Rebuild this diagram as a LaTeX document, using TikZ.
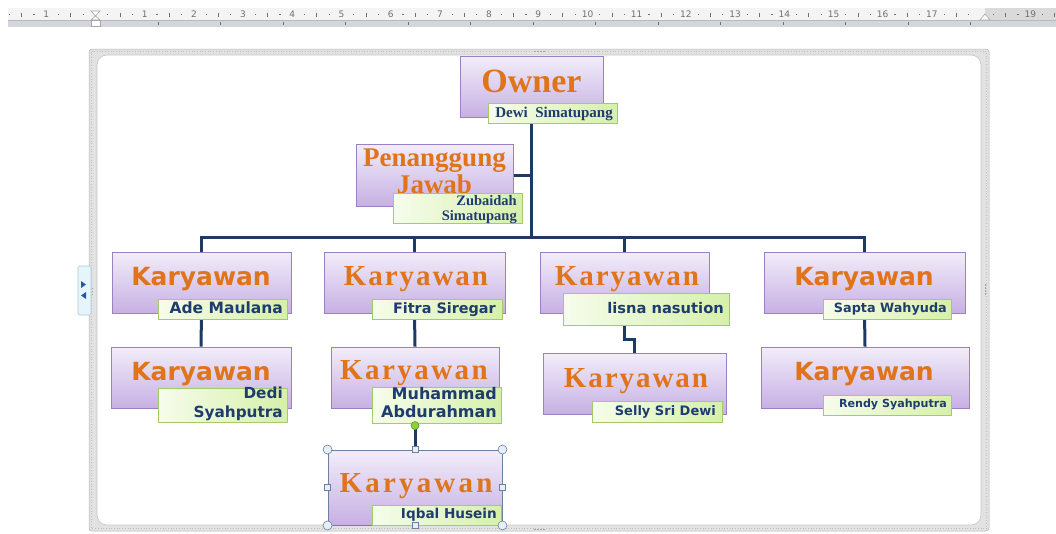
\documentclass[tikz,border=0pt]{standalone}
\usepackage{fontspec}
\setmainfont{Liberation Serif}
\newfontfamily\dvs{DejaVu Sans}
\usetikzlibrary{shadows,calc}
\pgfdeclarelayer{frame}
\pgfdeclarelayer{back}
\pgfsetlayers{frame,back,main}
\definecolor{boxtop}{HTML}{F2EDFA}
\definecolor{boxbot}{HTML}{C7B0E3}
\definecolor{boxline}{HTML}{9B80C4}
\definecolor{subtop}{HTML}{F6FCEB}
\definecolor{subbot}{HTML}{D6F0AA}
\definecolor{subline}{HTML}{A2CB6A}
\definecolor{linkcol}{HTML}{1E3A62}
\definecolor{ttl}{HTML}{E0741A}
\definecolor{subtxt}{HTML}{1F3C6E}
\definecolor{handle}{HTML}{6C819E}
\definecolor{handlefill}{HTML}{E6EEF6}
\definecolor{rotfill}{HTML}{8BD23A}
\definecolor{rotline}{HTML}{5A9A20}
\definecolor{rulerbg}{HTML}{F4F4F4}
\definecolor{rulerdark}{HTML}{DADADA}
\definecolor{rulerstrip}{HTML}{D3D6DA}
\definecolor{rulertick}{HTML}{707070}
\definecolor{framegray}{HTML}{E2E2E2}
\definecolor{tabfill}{HTML}{E6F5FB}
\definecolor{tabline}{HTML}{A6CADB}
\definecolor{tabarrow}{HTML}{2458A8}
\tikzset{
  orgbox/.style={draw=boxline, line width=0.9pt, top color=boxtop, bottom color=boxbot, inner sep=0pt,
    drop shadow={shadow xshift=1.3pt, shadow yshift=-1.3pt, opacity=0.25}},
  subbox/.style={draw=subline, line width=0.9pt, left color=subtop, right color=subbot, inner sep=0pt,
    drop shadow={shadow xshift=1.2pt, shadow yshift=-1.2pt, opacity=0.25}},
  link/.style={draw=linkcol, line width=3pt},
  ttlserif/.style={text=ttl, inner sep=0pt, anchor=base, font=\bfseries\fontsize{29}{29}\selectfont\addfontfeature{LetterSpace=#1}},
  ttlbig/.style={text=ttl, inner sep=0pt, anchor=base, font=\bfseries\fontsize{#1}{#1}\selectfont},
  ttlsans/.style={text=ttl, inner sep=0pt, anchor=base, font=\dvs\bfseries\fontsize{25}{25}\selectfont},
  subsans/.style={text=subtxt, inner sep=0pt, anchor=base east, font=\dvs\bfseries\fontsize{#1}{19}\selectfont},
  subserif/.style={text=subtxt, inner sep=0pt, anchor=base east, font=\bfseries\fontsize{#1}{15}\selectfont},
  rulnum/.style={text=rulertick, inner sep=0pt, font=\dvs\fontsize{9}{9}\selectfont},
  markline/.style={draw=gray!70, line width=0.6pt},
  hcirc/.style={circle, draw=handle, fill=handlefill, line width=0.6pt, minimum size=9pt, inner sep=0pt},
  hsq/.style={rectangle, draw=handle, fill=handlefill, line width=0.6pt, minimum size=6pt, inner sep=0pt},
}
\begin{document}
\begin{tikzpicture}[x=1pt,y=-1pt]
\useasboundingbox (0,0) rectangle (1056,533);
\begin{pgfonlayer}{frame}
\fill[white] (0,0) rectangle (1056,533);
% ruler
\begin{scope}
\clip (8,8) rectangle (1056,27);
\fill[rulerbg] (8,8) rectangle (1056,20);
\fill[rulerdark] (985,8) rectangle (1056,20);
\fill[rulerstrip] (8,20) rectangle (1056,27);
\draw[gray!55, line width=0.5pt] (8,20.3) -- (1056,20.3);
\foreach \k in {-2,...,19}{
  \fill[rulertick] ({95.5+(\k+0.25)*49.2-0.6},14) rectangle ++(1.2,1.2);
  \fill[rulertick] ({95.5+(\k+0.75)*49.2-0.6},14) rectangle ++(1.2,1.2);
  \fill[rulertick] ({95.5+(\k+0.5)*49.2-0.5},12.5) rectangle ++(1,4);
}
\foreach \n in {1,...,14} \fill[rulertick] ({95.5+\n*62.5-0.5},22) rectangle ++(1,3);
\end{scope}
\foreach \k in {-1,1,2,...,17,19}{
  \pgfmathtruncatemacro\rabs{abs(\k)}
  \node[rulnum] (rn\k) at ({95.5+\k*49.2},14.6) {\rabs};
}
\draw[markline, fill=white] (91,11) -- (100,11) -- (95.5,16) -- cycle;
\draw[markline, fill=white] (95.5,16) -- (100,20) -- (91,20) -- cycle;
\draw[markline, fill=white] (91,20) rectangle (100,26);
\draw[markline, fill=white] (980,20) -- (990,20) -- (985,14) -- cycle;
% frame
\fill[framegray, rounded corners=3pt] (89,49) rectangle (989,531);
\draw[gray!60, line width=0.5pt, rounded corners=3pt] (89,49) rectangle (989,531);
\draw[gray!50, line width=0.7pt, dotted] (91.5,51.5) rectangle (986.5,528.5);
\fill[white, rounded corners=10pt] (97,55) rectangle (981,525);
\draw[gray!45, line width=0.6pt, rounded corners=10pt] (97,55) rectangle (981,525);
\foreach \i in {0,...,3}{
  \fill[gray!70] ({534+\i*3},50.5) rectangle ++(1.5,1.5);
  \fill[gray!70] ({534+\i*3},528.5) rectangle ++(1.5,1.5);
  \fill[gray!70] (984.5,{284+\i*3}) rectangle ++(1.5,1.5);
}
% left tab
\draw[tabline, fill=tabfill, line width=0.6pt, rounded corners=1.5pt] (78,266) rectangle (91,315);
\fill[tabarrow] (81,281) -- (86,284.5) -- (81,288) -- cycle;
\fill[tabarrow] (86,292) -- (81,295.5) -- (86,299) -- cycle;
\foreach \i in {0,...,2} \fill[gray!70] (92,{288+\i*3}) rectangle ++(1.3,1.3);
\end{pgfonlayer}

% ---------- boxes ----------
\node[orgbox, minimum width=143, minimum height=61] (own) at (531.5,86.5) {};
\node[ttlbig=34] (ownT) at (531.5,92) {Owner};
\node[subbox, minimum width=129, minimum height=20] (ownS) at (552.5,113) {};
\node[subserif=15] (ownN) at (613,117) {Dewi\ \ Simatupang};

\node[orgbox, minimum width=157, minimum height=62] (pen) at (434.5,175) {};
\node[ttlbig=27] (penT1) at (434.5,166.5) {Penanggung};
\node[ttlbig=27] (penT2) at (434.5,193) {Jawab};
\node[subbox, minimum width=129, minimum height=30] (penS) at (457.5,208) {};
\node[subserif=14.5] (penN) at (517,205) {\begin{tabular}[t]{@{}r@{}}Zubaidah\\Simatupang\end{tabular}};

% row 1
\node[orgbox, minimum width=179, minimum height=61] (k1) at (201.5,282.5) {};
\node[ttlsans] (k1T) at (201,285) {Karyawan};
\node[subbox, minimum width=129, minimum height=20] (k1S) at (222.5,309) {};
\node[subsans=15.5] (k1N) at (283,313) {Ade Maulana};

\node[orgbox, minimum width=181, minimum height=61] (k2) at (414.5,282.5) {};
\node[ttlserif=6.7] (k2T) at (416,285) {Karyawan};
\node[subbox, minimum width=130, minimum height=20] (k2S) at (437,309) {};
\node[subsans=14.4] (k2N) at (496,313) {Fitra Siregar};

\node[orgbox, minimum width=169, minimum height=61] (k3) at (624.5,282.5) {};
\node[ttlserif=6.7] (k3T) at (627,285) {Karyawan};
\node[subbox, minimum width=166, minimum height=32] (k3S) at (646,309) {};
\node[subsans=14.7] (k3N) at (724,313) {lisna nasution};

\node[orgbox, minimum width=201, minimum height=61] (k4) at (864.5,282.5) {};
\node[ttlsans] (k4T) at (864,285) {Karyawan};
\node[subbox, minimum width=128, minimum height=20] (k4S) at (887,309) {};
\node[subsans=12.8] (k4N) at (947,312) {Sapta Wahyuda};

% row 2
\node[orgbox, minimum width=180, minimum height=61] (k1b) at (201,377.5) {};
\node[ttlsans] (k1bT) at (201,380) {Karyawan};
\node[subbox, minimum width=129, minimum height=34] (k1bS) at (222.5,405) {};
\node[subsans=15.3] (k1bN) at (283,398) {\begin{tabular}[t]{@{}r@{}}Dedi\\Syahputra\end{tabular}};

\node[orgbox, minimum width=168, minimum height=61] (k2b) at (415,377.5) {};
\node[ttlserif=8.4] (k2bT) at (414,379.5) {Karyawan};
\node[subbox, minimum width=129, minimum height=36] (k2bS) at (436.5,405) {};
\node[subsans=16] (k2bN1) at (497,399) {Muhammad};
\node[subsans=16] (k2bN2) at (497,417) {Abdurahman};

\node[orgbox, minimum width=183, minimum height=61] (k3b) at (634.5,383.5) {};
\node[ttlserif=6.7] (k3bT) at (636,387) {Karyawan};
\node[subbox, minimum width=130, minimum height=21] (k3bS) at (657,411.5) {};
\node[subsans=13] (k3bN) at (716,415) {Selly Sri Dewi};

\node[orgbox, minimum width=208, minimum height=61] (k4b) at (865,377.5) {};
\node[ttlsans] (k4bT) at (864,380) {Karyawan};
\node[subbox, minimum width=128, minimum height=20] (k4bS) at (887,405) {};
\node[subsans=11.1] (k4bN) at (947,407) {Rendy Syahputra};

% row 3 (selected)
\node[orgbox, draw=handle, minimum width=174, minimum height=75] (k2c) at (415,487.5) {};
\node[ttlserif=11] (k2cT) at (416,492) {Karyawan};
\node[subbox, minimum width=129, minimum height=20] (k2cS) at (436.5,515) {};
\node[subsans=13.6] (k2cN) at (497,518) {Iqbal Husein};

% ---------- connectors ----------
\coordinate (bar) at (532,237);
\begin{pgfonlayer}{back}
\draw[link] (own.south) -- (own.south |- bar);
\draw[link] (pen.east) -- (pen.east -| own.south);
\draw[link] (k1.north) |- (bar) -| (k4.north);
\draw[link] (k2.north) -- (k2.north |- bar);
\draw[link] (k3.north) -- (k3.north |- bar);
\draw[link] (k1.south) -- (k1b.north);
\draw[link] (k2.south) -- (k2b.north);
\draw[link] (k2b.south) -- (k2c.north);
\draw[link] (k3.south) -- ++(0,26) -| (k3b.north);
\draw[link] (k4.south) -- (k4b.north);
\end{pgfonlayer}

% ---------- selection handles ----------
\node[hcirc] (h1) at (k2c.north west) {};
\node[hcirc] (h2) at (k2c.north east) {};
\node[hcirc] (h3) at (k2c.south west) {};
\node[hcirc] (h4) at (k2c.south east) {};
\node[hsq] (h5) at (k2c.north) {};
\node[hsq] (h6) at (k2c.south) {};
\node[hsq] (h7) at (k2c.west) {};
\node[hsq] (h8) at (k2c.east) {};
\node[circle, draw=rotline, fill=rotfill, line width=0.6pt, minimum size=8pt, inner sep=0pt] (rot) at ($(k2c.north)+(0,-24)$) {};
\end{tikzpicture}
\end{document}
